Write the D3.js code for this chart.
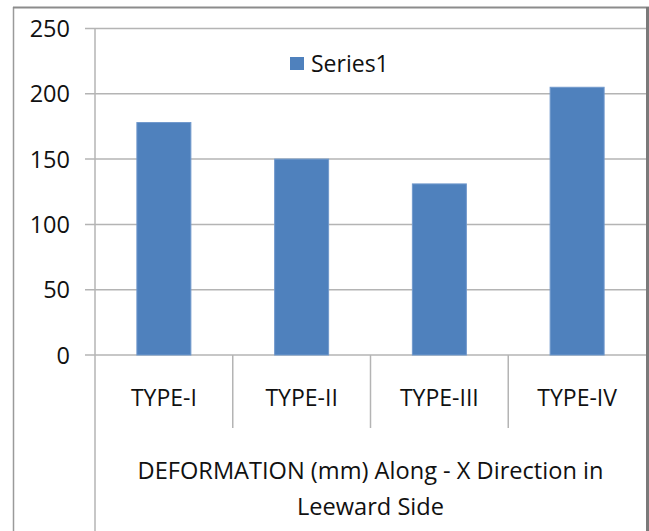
<!DOCTYPE html>
<html>
<head>
<meta charset="utf-8">
<script src="https://cdn.jsdelivr.net/npm/d3@7"></script>
<style>
  body { margin: 0; background: #fff; }
  svg { display: block; font-family: "Open Sans", sans-serif; }
</style>
</head>
<body>
<svg id="chart" width="649" height="531"></svg>
<script>
// data
const categories = ['TYPE-I', 'TYPE-II', 'TYPE-III', 'TYPE-IV'];
const series1 = [178, 150, 131, 205];
const yTicks = [0, 50, 100, 150, 200, 250];
const seriesName = 'Series1';
const titleLines = ['DEFORMATION (mm) Along - X Direction in', 'Leeward Side'];

const svg = d3.select('#chart');
const W = 649, H = 531;

// plot area
const plotLeft = 95, plotRight = 646, plotTop = 28.5, plotBottom = 355;

const x = d3.scaleBand()
  .domain(categories)
  .range([plotLeft, plotRight])
  .paddingInner(0.608)
  .paddingOuter(0.304);

const y = d3.scaleLinear()
  .domain([0, 250])
  .range([plotBottom, plotTop]);

const gridColor = '#b4b4b4';
const textColor = '#111';

// outer frame
svg.append('line').attr('x1', 13.5).attr('x2', 13.5).attr('y1', 7).attr('y2', H)
  .attr('stroke', '#9a9a9a').attr('stroke-width', 1.5);
svg.append('line').attr('x1', 13).attr('x2', W).attr('y1', 7.5).attr('y2', 7.5)
  .attr('stroke', '#8c8c8c').attr('stroke-width', 2);

// gridlines + y ticks
const yAxis = svg.append('g');
yAxis.selectAll('line.grid')
  .data(yTicks)
  .enter().append('line')
  .attr('class', 'grid')
  .attr('x1', 85).attr('x2', plotRight)
  .attr('y1', d => y(d)).attr('y2', d => y(d))
  .attr('stroke', gridColor).attr('stroke-width', 1.5);

yAxis.selectAll('text')
  .data(yTicks)
  .enter().append('text')
  .attr('x', 70)
  .attr('y', d => y(d) + 8.5)
  .attr('text-anchor', 'end')
  .attr('font-size', 23.5)
  .attr('fill', textColor)
  .text(d => d);

// y axis line, runs down through the category area
svg.append('line').attr('x1', plotLeft).attr('x2', plotLeft).attr('y1', plotTop).attr('y2', H)
  .attr('stroke', gridColor).attr('stroke-width', 1.5);

// category separators
const seps = categories.slice(1).map(c => x(c) - x.step() * x.paddingOuter());
svg.selectAll('line.sep')
  .data(seps)
  .enter().append('line')
  .attr('class', 'sep')
  .attr('x1', d => d).attr('x2', d => d)
  .attr('y1', plotBottom).attr('y2', 428)
  .attr('stroke', gridColor).attr('stroke-width', 1.5);

// bars
svg.selectAll('rect.bar')
  .data(series1)
  .enter().append('rect')
  .attr('class', 'bar')
  .attr('x', (d, i) => x(categories[i]))
  .attr('width', x.bandwidth())
  .attr('y', d => y(d))
  .attr('height', d => y(0) - y(d))
  .attr('fill', '#4f81bd')
  .attr('stroke', '#7199cc')
  .attr('stroke-width', 1);

// category labels
svg.selectAll('text.cat')
  .data(categories)
  .enter().append('text')
  .attr('class', 'cat')
  .attr('x', d => x(d) + x.bandwidth() / 2)
  .attr('y', 406)
  .attr('text-anchor', 'middle')
  .attr('font-size', 23)
  .attr('fill', textColor)
  .text(d => d);

// axis title
svg.selectAll('text.title')
  .data(titleLines)
  .enter().append('text')
  .attr('class', 'title')
  .attr('x', (plotLeft + plotRight) / 2)
  .attr('y', (d, i) => 479 + i * 36)
  .attr('text-anchor', 'middle')
  .attr('font-size', 23.6)
  .attr('fill', textColor)
  .text(d => d);

// legend
const legend = svg.append('g');
legend.append('rect')
  .attr('x', 290).attr('y', 57).attr('width', 14).attr('height', 13)
  .attr('fill', '#4f81bd');
legend.append('text')
  .attr('x', 311).attr('y', 72)
  .attr('font-size', 23)
  .attr('fill', textColor)
  .text(seriesName);

// right frame edge
svg.append('rect').attr('x', 646).attr('y', 7).attr('width', 3).attr('height', H - 7)
  .attr('fill', '#7a7a7a');
</script>
</body>
</html>
